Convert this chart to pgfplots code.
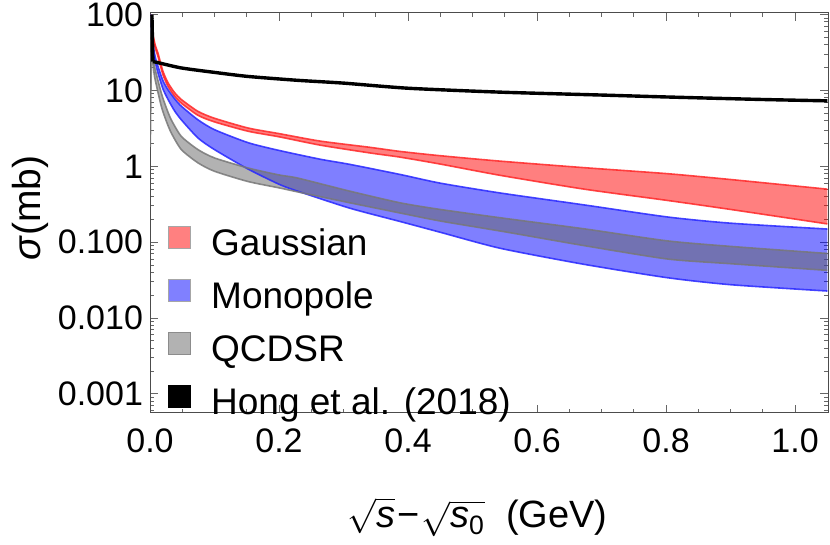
\documentclass[border=0pt]{standalone}
\usepackage{amsmath}
\usepackage{fontspec}
\setmainfont{Liberation Sans}
\usepackage{pgfplots}
\pgfplotsset{compat=1.18}
\usepgfplotslibrary{fillbetween}

\definecolor{gedge}{RGB}{255,40,40}
\definecolor{medge}{RGB}{40,40,255}
\definecolor{qedge}{RGB}{120,120,120}

\begin{document}
\begin{tikzpicture}
\begin{axis}[
    at={(0,0)}, anchor=south west,
    scale only axis, width=339pt, height=200pt,
    ymode=log,
    xmin=0, xmax=1.051, ymin=5.6e-4, ymax=105,
    xtick={0,0.2,0.4,0.6,0.8,1.0},
    xticklabels={0.0,0.2,0.4,0.6,0.8,1.0},
    minor x tick num=3,
    ytick={0.001,0.01,0.1,1,10,100},
    yticklabels={0.001,0.010,0.100,1,10,100},
    minor ytick={0.0006,0.0007,0.0008,0.0009,0.002,0.003,0.004,0.005,0.006,0.007,0.008,0.009,
      0.02,0.03,0.04,0.05,0.06,0.07,0.08,0.09,0.2,0.3,0.4,0.5,0.6,0.7,0.8,0.9,
      2,3,4,5,6,7,8,9,20,30,40,50,60,70,80,90},
    tick align=inside,
    major tick length=4pt, minor tick length=2.2pt,
    tick style={black!60, line width=0.5pt},
    axis line style={black!70, line width=0.5pt},
    ticklabel style={font=\fontsize{17}{20}\selectfont},
    xticklabel style={yshift=-4.5pt},
    xlabel={$\sqrt{\textit{s}}\mkern1mu\text{−}\mkern1mu\sqrt{\textit{s}_{\text{0}}}$\ \ (GeV)},
    xlabel style={at={(axis description cs:0.483,0)}, anchor=center, yshift=-52pt,
      font=\fontsize{19}{23}\selectfont},
    ylabel={\textit{σ}(mb)},
    ylabel style={at={(axis description cs:-0.177,0.512)}, anchor=center,
      font=\fontsize{19.5}{23}\selectfont},
    legend image code/.code={\draw[#1] (0pt,-1.3pt) rectangle (11pt,9.7pt);},
    legend style={at={(axis description cs:0,0)}, anchor=south west,
      xshift=9pt, yshift=-5pt, draw=none, fill=none, inner sep=0pt,
      row sep=8pt, column sep=10pt,
      font=\fontsize{18.5}{22}\selectfont,
      nodes={inner sep=0pt, text height=13.3pt, text depth=4pt}},
    legend cell align=left,
]

% Gaussian
\addplot[name path=gu, gedge, line width=0.8pt, draw opacity=0.85, smooth, tension=0.4, forget plot]
coordinates {
(0.0012,100) (0.004,58) (0.008,40) (0.0124,31) (0.02,18) (0.028,12.6) (0.038,9.4)
(0.0486,7.6) (0.0744,5.3) (0.1,4.3) (0.152,3.2) (0.2,2.7) (0.264,2.15) (0.341,1.78)
(0.388,1.57) (0.45,1.38) (0.543,1.17) (0.673,0.96) (0.802,0.80) (0.9,0.67) (1.05,0.50)
};
\addplot[name path=gl, gedge, line width=0.8pt, draw opacity=0.85, smooth, tension=0.4, forget plot]
coordinates {
(0.0012,100) (0.004,55) (0.008,37) (0.0124,28) (0.02,16.2) (0.028,11.3) (0.038,8.4)
(0.0486,6.8) (0.0744,4.7) (0.1,3.85) (0.152,2.9) (0.2,2.45) (0.264,1.9) (0.341,1.50)
(0.388,1.32) (0.45,1.07) (0.543,0.76) (0.673,0.50) (0.802,0.355) (0.9,0.27) (1.05,0.174)
};
\addplot[red, fill opacity=0.5, draw=none, forget plot] fill between[of=gu and gl];

% Monopole
\addplot[name path=mu, medge, line width=0.8pt, draw opacity=0.85, smooth, tension=0.4, forget plot]
coordinates {
(0.0012,100) (0.004,45) (0.008,28) (0.0124,20.8) (0.02,13.5) (0.028,10.2) (0.038,7.8)
(0.0486,6.2) (0.0744,4.1) (0.1,3.04) (0.152,2.05) (0.2,1.62) (0.264,1.24) (0.31,1.06)
(0.388,0.78) (0.45,0.60) (0.543,0.445) (0.673,0.31) (0.802,0.215) (0.9,0.178) (1.05,0.149)
};
\addplot[name path=ml, medge, line width=0.8pt, draw opacity=0.85, smooth, tension=0.4, forget plot]
coordinates {
(0.0012,100) (0.004,40) (0.008,24) (0.0124,17) (0.02,10.5) (0.028,7.6) (0.038,5.4)
(0.0486,4.1) (0.0744,2.36) (0.1,1.66) (0.152,0.92) (0.2,0.58) (0.229,0.47) (0.31,0.28)
(0.388,0.187) (0.45,0.135) (0.543,0.083) (0.673,0.051) (0.802,0.034) (0.9,0.0275) (1.05,0.0227)
};
\addplot[blue, fill opacity=0.5, draw=none, forget plot] fill between[of=mu and ml];

% QCDSR
\addplot[name path=qu, qedge, line width=0.8pt, draw opacity=0.85, smooth, tension=0.4, forget plot]
coordinates {
(0.0012,100) (0.003,40) (0.007,20.8) (0.0175,9.3) (0.025,6.0) (0.033,4.1) (0.0486,2.48)
(0.0744,1.66) (0.1,1.29) (0.152,0.95) (0.2,0.77) (0.229,0.70) (0.31,0.47) (0.388,0.33)
(0.45,0.27) (0.55,0.206) (0.673,0.15) (0.802,0.104) (0.9,0.088) (1.05,0.071)
};
\addplot[name path=ql, qedge, line width=0.8pt, draw opacity=0.85, smooth, tension=0.4, forget plot]
coordinates {
(0.0005,1.8) (0.0025,30) (0.007,15.3) (0.0175,6.2) (0.025,4.0) (0.033,2.75) (0.0486,1.66)
(0.0744,1.11) (0.1,0.86) (0.152,0.63) (0.2,0.52) (0.229,0.46) (0.31,0.33) (0.388,0.242)
(0.45,0.19) (0.55,0.137) (0.673,0.09) (0.802,0.060) (0.9,0.052) (1.05,0.0425)
};
\addplot[black!60, fill opacity=0.5, draw=none, forget plot] fill between[of=qu and ql];

% Hong et al. (2018)
\addplot[black, line width=1.7pt, forget plot] coordinates {(0.003,100) (0.0045,24)};
\addplot[black, line width=1.7pt, smooth, tension=0.4, forget plot]
coordinates {
(0.0045,24) (0.012,23.3) (0.0486,19.8) (0.1,17.3) (0.152,15.3) (0.229,13.6) (0.3,12.5)
(0.4,10.7) (0.543,9.5) (0.7,8.7) (0.802,8.2) (0.95,7.6) (1.05,7.3)
};

\addlegendimage{fill=red!50, draw=black!35}
\addlegendentry{Gaussian}
\addlegendimage{fill=blue!50, draw=black!35}
\addlegendentry{Monopole}
\addlegendimage{fill=black!30, draw=black!45}
\addlegendentry{QCDSR}
\addlegendimage{fill=black, draw=black}
\addlegendentry{Hong et al. (2018)}
\end{axis}
\pgfresetboundingbox
\path[use as bounding box] (-75pt,-66pt) rectangle (340pt,206.5pt);
\end{tikzpicture}
\end{document}
